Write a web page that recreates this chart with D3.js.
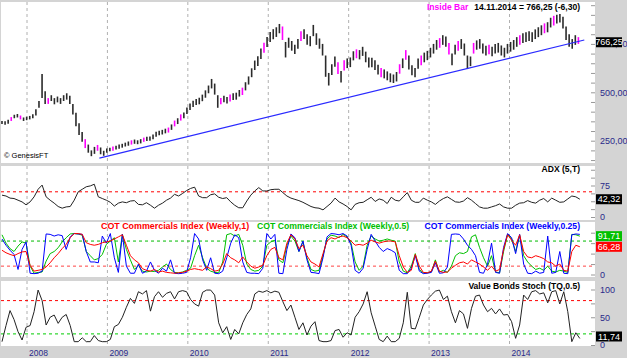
<!DOCTYPE html>
<html><head><meta charset="utf-8">
<script src="https://cdn.jsdelivr.net/npm/d3@7"></script>
<style>
body{margin:0;background:#d4d4d4;}
svg{display:block;font-family:Arial,"Liberation Sans",sans-serif;}
</style>
</head><body>
<svg id="c" width="627" height="358"></svg>
<script>
// ---------------- DATA ----------------
const years = [2008, 2009, 2010, 2011, 2012, 2013, 2014];

// bi-weekly price bars (start in decimal years, step in years)
const priceStart = 2007.689;
const priceStep = 0.03833;
const priceHigh = [352,350,358,372,384,388,380,370,374,378,386,412,455,595,505,470,485,470,478,470,485,495,482,440,395,340,295,258,230,200,218,228,215,198,210,214,220,224,230,234,240,246,252,256,252,258,266,270,272,282,296,302,306,312,318,334,354,366,386,396,422,442,456,466,472,488,510,535,569,545,485,470,482,476,488,495,498,512,524,552,582,624,664,686,726,756,786,812,826,836,853,840,760,782,765,745,775,815,826,800,790,848,805,778,750,690,600,645,685,655,610,665,675,680,712,722,718,735,710,680,678,665,642,625,618,608,598,592,605,645,675,718,690,640,625,675,690,705,714,730,750,770,780,795,788,755,700,745,765,775,752,690,685,755,768,775,752,740,745,735,750,755,742,730,750,760,770,785,795,805,810,815,810,825,836,846,856,862,885,895,900,905,890,840,800,775,795,785];
const priceLow = [336,332,338,352,366,370,360,352,356,360,366,380,420,470,440,440,455,438,448,440,455,462,440,385,325,280,245,212,188,170,182,198,180,172,188,195,198,204,208,214,220,224,230,234,232,236,244,248,250,258,270,278,282,288,292,306,324,336,354,366,388,408,424,434,438,454,472,495,520,488,420,438,448,442,452,460,462,478,486,510,540,578,615,636,672,704,734,760,774,786,805,770,680,730,715,698,725,765,775,745,738,790,745,725,690,580,535,590,632,595,550,612,625,630,665,676,670,688,655,628,630,615,592,578,572,562,552,548,556,596,625,668,618,588,578,622,640,655,666,680,700,720,730,745,735,695,640,695,715,724,690,620,635,700,720,725,700,690,696,686,700,705,690,680,700,710,720,735,745,755,760,765,760,775,785,795,805,810,835,845,855,860,830,770,735,725,745,750];
const insideBars = [3,6,15,27,31,36,42,46,54,56,58,71,74,78,85,91,97,109,111,115,123,129,131,136,142,145,148,153,158,168,176,179,187];
const trendT = [2008.9, 2014.93];
const trendP = [160, 770];
const lastPrice = 766.25;

// indicators (start in decimal years, step in years)
const indStart = 2007.689;
const indStep = 0.0499;
const adx = [52,50,45,44,40,36,29,36,48,66,76,48,40,33,25,21,24,25,40,60,66,72,74,78,48,44,40,35,26,33,36,34,38,39,30,29,34,28,21,28,33,40,45,54,50,56,63,68,71,50,46,46,53,55,47,44,46,36,28,22,22,38,52,62,70,62,62,65,66,66,58,50,45,42,39,35,30,25,22,21,17,25,33,45,36,31,25,17,30,34,35,41,47,37,43,40,32,47,40,38,48,58,40,35,35,45,40,36,30,38,44,48,42,36,35,38,46,40,32,24,21,21,24,27,31,24,21,21,28,33,34,39,35,33,40,44,36,45,40,35,36,43,50,48,42.32];
const cotRed = [58,52,48,45,50,54,55,22,8,10,12,18,28,40,50,62,72,88,98,98,96,76,72,70,72,76,78,80,85,90,95,70,45,35,28,14,10,8,12,6,8,5,4,3,4,5,8,12,14,12,10,18,14,8,10,25,50,40,35,28,42,30,20,15,18,22,45,60,65,40,35,75,95,85,62,70,45,30,25,18,50,80,88,85,90,92,88,80,70,72,70,75,82,78,75,78,80,80,78,45,18,5,10,48,20,5,4,8,32,8,5,6,15,22,28,30,25,35,30,25,18,10,20,8,12,60,95,82,70,95,55,42,40,45,42,38,30,28,20,25,10,8,55,70,66.28];
const cotGreen = [95,75,62,55,68,78,75,20,3,5,6,32,50,55,64,78,88,97,98,97,94,55,45,35,38,48,72,80,88,30,96,60,35,12,22,8,6,8,7,10,18,25,12,5,4,6,10,15,45,70,40,15,8,5,4,30,95,98,92,96,70,25,12,8,10,20,70,78,82,35,28,70,92,80,55,78,40,12,8,10,45,85,94,92,88,96,90,75,30,10,20,70,92,85,80,82,85,82,80,30,8,4,20,50,12,4,4,6,35,6,10,5,20,45,52,50,55,90,95,65,40,20,45,6,4,55,96,85,55,94,45,30,20,12,15,10,20,8,6,10,8,5,96,95,91.71];
const cotBlue = [85,70,58,48,12,60,78,3,2,3,8,97,96,92,95,93,60,90,98,97,96,55,30,30,28,92,75,98,40,5,96,20,3,3,25,3,8,30,10,3,15,8,35,3,2,3,5,40,98,85,35,10,40,3,2,8,40,75,95,88,30,5,3,3,2,15,98,85,96,3,2,60,97,88,55,80,35,5,4,2,40,90,98,97,95,98,92,70,10,3,15,60,96,80,65,55,62,58,52,10,2,2,15,45,8,2,3,5,28,3,4,18,96,97,96,85,70,60,45,5,3,25,75,5,3,65,98,88,50,96,25,3,2,8,3,5,92,3,5,55,3,2,95,97,96];
const stoch = [6,35,62,46,24,9,32,35,60,99,80,36,50,54,39,50,55,35,6,6,13,6,6,17,8,6,6,10,33,37,50,68,84,75,96,92,98,61,87,96,86,93,96,83,96,98,96,82,74,70,95,99,99,90,40,22,33,10,28,20,40,55,65,92,97,95,98,94,97,95,78,62,72,50,28,40,18,34,42,8,6,6,8,26,28,14,22,18,50,60,74,96,58,34,10,6,16,6,6,12,40,95,30,29,50,72,82,90,97,99,82,88,60,40,62,56,30,66,88,90,72,60,66,56,65,54,55,42,12,36,90,82,96,98,92,94,76,96,98,74,96,60,6,22,11.74];

const priceTicks = [150,200,250,300,350,400,450,500,550,600,650,700,750,800,850,900,950];
const priceLabels = [250, 500, 750];
const adxLabels = [0, 75];
const cotLabels = [0];
const stochLabels = [0, 50, 100];
const adxLevel = 60;
const cotLevels = [80, 20];
const stochLevels = [80, 20];

// ---------------- LAYOUT ----------------
const svg = d3.select("#c");
const L = 1, R = 595;
const P = {
  price: {y0: 2, y1: 163},
  adx:   {y0: 166, y1: 220},
  cot:   {y0: 222, y1: 277},
  stoch: {y0: 281, y1: 346}
};
const navy = "#2a2a8a";

const x = d3.scaleLinear().domain([2008, 2014]).range([27, 509.5]);
const yPrice = d3.scaleLinear().domain([250, 500]).range([140.7, 92.3]);
const yAdx = d3.scaleLinear().domain([0, 75]).range([217, 185.5]);
const yCot = d3.scaleLinear().domain([0, 100]).range([274.5, 232.7]);
const yStoch = d3.scaleLinear().domain([0, 100]).range([345, 289.5]);

svg.append("rect").attr("width", 627).attr("height", 358).attr("fill", "#d4d4d4");

const defs = svg.append("defs");
Object.entries(P).forEach(([k, p]) => {
  svg.append("rect").attr("x", L).attr("y", p.y0).attr("width", R - L).attr("height", p.y1 - p.y0)
    .attr("fill", "#fff");
  defs.append("clipPath").attr("id", "clip-" + k).append("rect")
    .attr("x", L).attr("y", p.y0).attr("width", R - L).attr("height", p.y1 - p.y0);
  svg.append("g").selectAll("line").data(years).join("line")
    .attr("x1", d => x(d)).attr("x2", d => x(d)).attr("y1", p.y0).attr("y2", p.y1)
    .attr("stroke", "#b0b0b0").attr("stroke-dasharray", "3,3").attr("stroke-width", 1);
});

function hline(v, scale, color) {
  svg.append("line").attr("x1", L).attr("x2", R).attr("y1", scale(v)).attr("y2", scale(v))
    .attr("stroke", color).attr("stroke-dasharray", "3,3").attr("stroke-width", 1);
}

// ---------------- PRICE ----------------
const gp = svg.append("g").attr("clip-path", "url(#clip-price)");
const bars = priceHigh.map((h, i) => ({t: priceStart + i * priceStep, h, l: priceLow[i], ins: insideBars.includes(i)}));
gp.selectAll("line.bar").data(bars).join("line").attr("class", "bar")
  .attr("x1", d => x(d.t)).attr("x2", d => x(d.t))
  .attr("y1", d => yPrice(d.h)).attr("y2", d => yPrice(d.l))
  .attr("stroke", d => d.ins ? "#ff00ff" : "#2b2b2b").attr("stroke-width", 1.6);
gp.append("line")
  .attr("x1", x(trendT[0])).attr("y1", yPrice(trendP[0]))
  .attr("x2", x(trendT[1])).attr("y2", yPrice(trendP[1]))
  .attr("stroke", "#2a2aff").attr("stroke-width", 1.2);

// ---------------- ADX ----------------
hline(adxLevel, yAdx, "#ff0000");
const indX = (d, i) => x(indStart + i * indStep);
const lineGen = (scale) => d3.line().x((d, i) => indX(d, i)).y(d => scale(d));
svg.append("path").attr("clip-path", "url(#clip-adx)").attr("d", lineGen(yAdx)(adx))
  .attr("fill", "none").attr("stroke", "#222").attr("stroke-width", 1);

// ---------------- COT ----------------
hline(cotLevels[0], yCot, "#00bb00");
hline(cotLevels[1], yCot, "#ff4444");
[[cotGreen, "#00c000"], [cotBlue, "#0000ff"], [cotRed, "#ff0000"]].forEach(([arr, c]) => {
  svg.append("path").attr("clip-path", "url(#clip-cot)").attr("d", lineGen(yCot)(arr))
    .attr("fill", "none").attr("stroke", c).attr("stroke-width", 1);
});

// ---------------- STOCH ----------------
hline(stochLevels[0], yStoch, "#ff0000");
hline(stochLevels[1], yStoch, "#00cc00");
svg.append("path").attr("clip-path", "url(#clip-stoch)").attr("d", lineGen(yStoch)(stoch))
  .attr("fill", "none").attr("stroke", "#222").attr("stroke-width", 1);

// ---------------- AXES ----------------
const comma2 = v => d3.format(".2f")(v).replace(".", ",");
function axis(scale, minor, labels, fmt) {
  const gm = svg.append("g").attr("transform", `translate(${R},0)`)
    .call(d3.axisRight(scale).tickValues(minor).tickSize(-4).tickFormat(""));
  gm.select(".domain").remove();
  gm.selectAll("line").attr("stroke", "#999");
  const gl = svg.append("g").attr("transform", `translate(${R},0)`)
    .call(d3.axisRight(scale).tickValues(labels).tickSize(0).tickPadding(5).tickFormat(fmt));
  gl.select(".domain").remove();
  gl.selectAll("text").attr("fill", navy).attr("font-size", 9);
}
axis(yPrice, priceTicks, priceLabels, comma2);
axis(yAdx, [0, 18.75, 37.5, 56.25, 75, 93.75, 112.5], adxLabels, d3.format("d"));
axis(yCot, [0, 25, 50, 75, 100], cotLabels, d3.format("d"));
axis(yStoch, [0, 25, 50, 75, 100], stochLabels, d3.format("d"));

// year labels
svg.append("g").selectAll("text").data(years).join("text")
  .attr("x", d => x(d) + 2).attr("y", 356).text(d => d)
  .attr("fill", navy).attr("font-size", 8.5);

// value boxes
function valBox(v, y, bg, fg) {
  const g = svg.append("g");
  g.append("rect").attr("x", 596).attr("y", y - 5).attr("width", 26).attr("height", 10).attr("fill", bg);
  g.append("text").attr("x", 609).attr("y", y + 3.2).attr("text-anchor", "middle")
    .attr("fill", fg).attr("font-size", 9).text(comma2(v));
}
valBox(lastPrice, yPrice(lastPrice) + 1.5, "#000", "#fff");
valBox(adx[adx.length - 1], yAdx(adx[adx.length - 1]), "#000", "#fff");
valBox(cotGreen[cotGreen.length - 1], yCot(cotGreen[cotGreen.length - 1]), "#00c000", "#fff");
valBox(cotRed[cotRed.length - 1], yCot(cotRed[cotRed.length - 1]), "#ff0000", "#fff");
valBox(stoch[stoch.length - 1], yStoch(stoch[stoch.length - 1]) - 2, "#000", "#fff");

// ---------------- TITLES ----------------
const T = (txt, xx, yy, color, anchor, bold, size) => svg.append("text").attr("x", xx).attr("y", yy)
  .attr("fill", color).attr("text-anchor", anchor || "start").attr("font-weight", bold ? "bold" : "normal")
  .attr("font-size", size || 8.55).text(txt);
T("Inside Bar", 427, 10, "#ff00ff", "start", true);
T("14.11.2014 = 766,25 (-6,30)", 580, 10, "#000", "end", true);
T("© GenesisFT", 4, 158, "#000", "start", false, 7.5);
T("ADX (5,T)", 580, 172, "#000", "end", true);
T("COT Commercials Index (Weekly,1)", 101, 229, "#ff0000", "start", true, 8.9);
T("COT Commercials Index (Weekly,0.5)", 257, 229, "#00c000", "start", true, 8.7);
T("COT Commercials Index (Weekly,0.25)", 580, 229, "#0000ff", "end", true, 8.6);
T("Value Bonds Stoch (TQ,0.5)", 580, 289, "#000", "end", true);
</script>
</body></html>
